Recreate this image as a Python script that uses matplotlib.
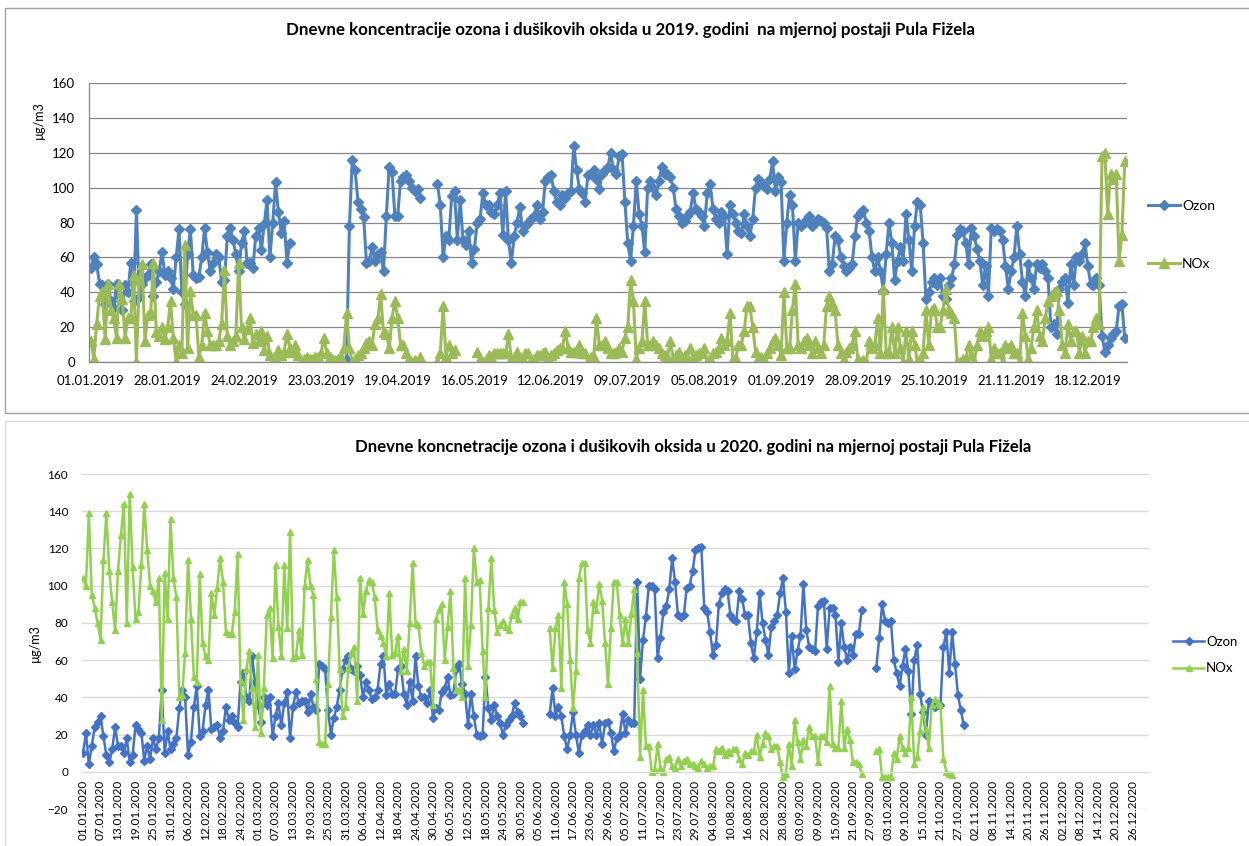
import numpy as np
import pandas as pd
import matplotlib
matplotlib.use('Agg')
import matplotlib.pyplot as plt
from matplotlib.patches import Rectangle

# dnevne koncentracije (µg/m3), segmenti po danu u godini (0 = 01.01.)
ozon_2019 = {
    0: [54, 60, 56, 45, 44, 33, 45, 35, 31, 45,
        38, 30, 44, 40, 57, 35, 87, 37, 45, 48,
        50, 56, 38, 46, 52, 63, 50, 52, 48, 42,
        60, 76, 40, 33, 62, 76, 50, 48, 49, 60,
        77, 63, 52, 57, 62, 60, 46, 47, 72, 77,
        70, 62, 52, 68, 75, 57, 57, 54, 72, 77,
        64, 79, 93, 60, 80, 103, 86, 74, 81, 57,
        68],
    87: [1, 0, 0, 1, 78, 116, 110, 92, 88, 83,
         57, 58, 66, 58, 62, 63, 52, 84, 112, 109,
         84, 84, 104, 106, 107, 104, 100, 98, 99, 94],
    122: [102, 90, 60, 72, 70, 95, 98, 70, 93, 70,
          67, 75, 57, 65, 80, 82, 97, 90, 90, 86,
          85, 90, 97, 73, 98, 70, 57, 72, 80, 89,
          75, 78, 80, 82, 84, 90, 82, 86, 104, 106,
          107, 98, 92, 90, 96, 94, 97, 98, 124, 110,
          99, 97, 92, 107, 108, 110, 105, 99,
          108, 110, 112, 120, 110, 108, 118, 119, 92, 68,
          58, 78, 104, 85, 78, 63, 100, 104, 100, 96,
          104, 112, 108, 108, 106, 100, 88, 84, 80, 81,
          84, 86, 97, 88, 86, 84, 78, 97, 102, 88,
          82, 80, 86, 84, 62, 90, 85, 80, 75, 74,
          85, 78, 72, 82, 100, 105, 103, 101, 99, 105,
          115, 98, 106, 103, 58, 80, 96, 90, 58, 80,
          78, 80, 82, 84, 78, 80, 82, 81, 80, 77,
          52, 56, 72, 70, 60, 55, 52, 54, 56, 72,
          84, 86, 87, 80, 75, 60, 52, 60,
          52, 41, 62, 80, 68, 47, 58, 66, 58, 85,
          70, 52, 78, 92, 90, 68, 36, 40, 46, 48,
          44, 48, 38, 36, 44, 48, 56, 73, 76, 75,
          68, 56, 77, 72, 65, 58, 44, 55, 38, 77,
          75, 76, 75, 70, 55, 42, 52, 60, 78, 62,
          46, 38, 56, 48, 42, 56, 54, 56, 52, 48,
          20, 22, 16, 42, 46, 48, 34, 56, 44, 60,
          58, 62, 68, 55, 45, 44, 48, 44, 15, 6,
          10, 14, 16, 18, 32, 33, 14],
}

nox_2019 = {
    0: [12, 2, 22, 38, 40, 13, 45, 30, 25, 14,
        45, 36, 14, 25, 25, 50, 0, 47, 56, 12,
        27, 28, 57, 17, 15, 20, 13, 20, 35, 14,
        0, 10, 5, 67, 8, 41, 27, 27, 3, 10,
        28, 18, 10, 10, 10, 12, 22, 53, 15, 10,
        12, 15, 57, 20, 13, 19, 25, 11, 16, 12,
        18, 7, 15, 4, 0, 2, 7, 4, 6, 16,
        8, 6, 10, 4, 0, 2, 3, 2, 2, 3,
        3, 5, 14, 5, 3, 2, 1, 2, 3, 8, 28,
        8, 0, 2, 4, 5, 8, 11, 12, 10, 22,
        25, 39, 17, 16, 8, 25, 35, 25, 10, 10,
        5, 2, 0, 1, 0, 3],
    122: [0, 5, 32, 3, 10, 5, 7],
    136: [6, 2, 0, 1, 4, 3, 5, 5, 5, 5,
          5, 16, 2, 3, 6, 2, 2, 5, 5, 1,
          2, 4, 4, 5, 6, 2, 4, 5, 7, 8,
          8, 18, 8, 6, 6, 6, 10, 5, 5, 0,
          3, 3, 25, 10,
          10, 12, 8, 5, 5, 6, 8, 6, 14, 20,
          47, 35, 2, 8, 12, 35, 10, 10, 12, 10,
          8, 5, 4, 3, 12, 2, 4, 6, 3, 4,
          3, 8, 3, 4, 5, 6, 8, 0, 2, 5,
          6, 8, 14, 10, 12, 28, 2, 2, 10, 10,
          18, 32, 32, 20, 6, 2, 3, 2, 5, 8,
          12, 14, 10, 4, 40, 8, 8, 30, 45, 10,
          8, 12, 14, 10, 5, 12, 8, 5, 10, 32,
          38, 34, 30, 10, 5, 2, 6, 8, 10, 18,
          2, 0, 1, 0, 12, 8, 10, 25,
          5, 42, 5, 5, 20, 5, 20, 8, 0, 18,
          2, 18, 10, 0, 2, 5, 30, 10, 30, 31,
          20, 20, 30, 42, 30, 28, 25, 0, 0, 2,
          1, 10, 4, 0, 10, 18, 15, 18, 20, 2,
          8, 5, 5, 0, 10, 8, 10, 5, 5, 0,
          28, 15, 2, 8, 20, 30, 15, 12, 25, 35,
          38, 40, 41, 30, 10, 5, 22, 12, 18, 18,
          5, 15, 5, 12, 12, 20, 25, 22, 118, 120,
          85, 108, 105, 108, 58, 73, 115],
}

ozon_2020 = {
    0: [10, 21, 4, 14, 24, 27, 30, 19, 9, 5,
        12, 24, 14, 14, 10, 18, 5, 9, 25, 23,
        21, 6, 14, 7, 18, 12, 18, 44, 10, 22,
        12, 15, 18, 34, 44, 40, 9, 16, 35, 46,
        19, 22, 36, 44, 23, 24, 25, 18, 22, 35,
        28, 30, 26, 24, 48, 53, 40, 38, 62, 48,
        36, 27, 40, 36, 40, 19, 30, 37, 25, 37,
        43, 18, 35, 43, 37, 38, 38, 32, 42, 35,
        33, 58, 57, 55, 33, 20, 29, 35, 44, 55,
        60, 62, 55, 54, 57, 52, 40, 48, 44, 39,
        40, 44, 58, 62, 41, 47, 42, 42, 55, 57,
        42, 36, 48, 38, 62, 46, 40, 40, 37, 44,
        29, 34, 33, 43, 45, 51, 41, 42, 55, 58,
        47, 42, 25, 42, 30, 20, 19, 20, 51, 34,
        28, 36, 30, 26, 20, 25, 28, 30, 37, 32,
        30, 26],
    160: [31, 45, 30, 35, 30, 19, 12, 20, 32, 20,
          10, 20, 22, 25, 20, 25, 20, 26, 15, 26,
          27, 21, 11, 18, 20, 31, 21, 28, 26, 26,
          102, 50, 71, 83, 100, 100, 98, 61, 72, 86,
          89, 98, 115, 102, 84, 83, 84, 99, 100, 108,
          119, 120, 121, 88, 86, 75, 63, 68, 90, 96,
          98, 97, 84, 82, 81, 97, 93, 84, 84, 69,
          61, 75, 96, 80, 71, 63, 78, 81, 84, 96,
          104, 86, 53, 73, 55, 65, 73, 101, 76, 67,
          66, 65, 89, 91, 92, 66, 88, 88, 84, 59,
          80, 67, 60, 67, 63, 74, 74, 87],
    272: [56, 72, 90, 81, 80, 81, 60, 53, 46, 57,
          66, 54, 31, 60, 68, 42, 32, 20, 38, 36,
          35, 36, 36, 67, 75, 53, 75, 58, 41, 33,
          25],
}

nox_2020 = {
    0: [104, 100, 139, 95, 88, 80, 71, 114, 139, 108,
        91, 76, 108, 127, 144, 80, 149, 110, 82, 86,
        111, 144, 119, 100, 97, 91, 104, 28, 107, 82,
        136, 104, 94, 40, 41, 64, 114, 82, 51, 48,
        106, 69, 62, 60, 96, 84, 99, 115, 102, 75,
        74, 74, 86, 117, 49, 28, 55, 65, 45, 24,
        63, 21, 45, 84, 88, 61, 111, 78, 62, 111,
        77, 129, 61, 62, 76, 63, 100, 114, 100, 95,
        50, 16, 15, 15, 47, 83, 119, 94, 55, 30,
        35, 56, 64, 67, 38, 104, 85, 97, 103, 102,
        94, 76, 73, 69, 62, 96, 63, 64, 73, 54,
        66, 54, 80, 112, 80, 79, 64, 57, 59, 59,
        36, 82, 87, 90, 60, 78, 97, 56, 44, 44,
        40, 104, 57, 79, 120, 102, 103, 65, 40, 88,
        115, 87, 75, 79, 81, 78, 76, 84, 88, 82,
        91, 91],
    160: [77, 56, 77, 84, 45, 102, 90, 60, 34, 54,
          104, 112, 112, 76, 69, 91, 87, 101, 92, 69,
          47, 77, 102, 102, 84, 69, 82, 69, 85, 98,
          64, 8, 44, 14, 14, 0, 1, 15, 2, 0,
          7, 8, 3, 2, 7, 3, 6, 7, 4, 4,
          3, 2, 6, 4, 2, 3, 3, 12, 11, 13,
          9, 11, 10, 12, 12, 7, 4, 10, 9, 11,
          11, 20, 8, 15, 21, 19, 12, 14, 14, 5,
          -3, -1, 15, 3, 28, 16, 7, 17, 14, 24,
          19, 19, 5, 19, 19, 16, 46, 15, 13, 13,
          38, 13, 23, 17, 5, 5, 4, -1],
    272: [11, 12, -3, -3, -3, -3, 10, 7, 19, 13,
          10, 13, 40, 4, 8, 22, 35, 23, 13, 36,
          39, 37, 36, 7, 0, -1, -2],
}

naslov_2019 = ('Dnevne koncentracije ozona i dušikovih oksida u 2019. godini  '
               'na mjernoj postaji Pula Fižela')
naslov_2020 = ('Dnevne koncnetracije ozona i dušikovih oksida u 2020. godini '
               'na mjernoj postaji Pula Fižela')

dani_2019 = pd.date_range('2019-01-01', '2019-12-31')
dani_2020 = pd.date_range('2020-01-01', '2020-12-31')


def u_niz(segmenti, n):
    y = np.full(n, np.nan)
    for start, vals in segmenti.items():
        y[start:start + len(vals)] = vals
    return y


plt.rcParams['font.family'] = ['Lato', 'DejaVu Sans']

W, H = 1249, 846
fig = plt.figure(figsize=(W / 100, H / 100), dpi=100)


def box(x0, y0, x1, y1):
    # pozicija u pikselima -> udio figure
    return [x0 / W, 1 - y1 / H, (x1 - x0) / W, (y1 - y0) / H]


# okviri oko grafova
fig.patches.append(Rectangle((5 / W, 1 - 413 / H), (W - 4) / W, 405 / H,
                             transform=fig.transFigure, fill=False,
                             edgecolor='#A0A0A0', lw=1))
fig.patches.append(Rectangle((5 / W, -0.01), (W - 4) / W, 1 - 421 / H + 0.01,
                             transform=fig.transFigure, fill=False,
                             edgecolor='#D9D9D9', lw=1))

# ---------------- 2019 ----------------
ax1 = fig.add_axes(box(89, 83, 1127, 362))
n1 = len(dani_2019)
x1 = np.arange(n1)
l_oz1, = ax1.plot(x1, u_niz(ozon_2019, n1), color='#4F81BD', lw=2.2,
                  marker='D', ms=5.5, label='Ozon')
l_no1, = ax1.plot(x1, u_niz(nox_2019, n1), color='#9BBB59', lw=2.2,
                  marker='^', ms=6.5, label='NOx')
ax1.set_xlim(-0.7, 364.8)
ax1.set_ylim(0, 160)
ax1.set_yticks(range(0, 161, 20))
t1 = list(range(0, n1, 27))
ax1.set_xticks(t1)
ax1.set_xticklabels([dani_2019[i].strftime('%d.%m.%Y') for i in t1])
ax1.grid(axis='y', color='#868686', lw=0.9)
ax1.set_axisbelow(True)
for s in ['top', 'right']:
    ax1.spines[s].set_visible(False)
for s in ['left', 'bottom']:
    ax1.spines[s].set_color('#868686')
    ax1.spines[s].set_linewidth(0.9)
ax1.tick_params(axis='both', length=0, labelsize=9.5, colors='#000000')
ax1.tick_params(axis='y', pad=10)
ax1.tick_params(axis='x', pad=9)
fig.text(631 / W, 1 - 30 / H, naslov_2019, ha='center', va='center',
         fontsize=12.2, fontweight='bold')
fig.text(39 / W, 1 - 120 / H, 'µg/m3', rotation=90, ha='center',
         va='center', fontsize=9)
fig.legend([l_oz1, l_no1], ['Ozon', 'NOx'], loc='center left',
           bbox_to_anchor=(1148 / W, 1 - 235 / H), frameon=False,
           borderpad=0, borderaxespad=0, handlelength=2.3,
           handletextpad=0.15, labelspacing=3.3, fontsize=10)

# ---------------- 2020 ----------------
ax2 = fig.add_axes(box(82, 474, 1149, 809))
# os x prolazi kroz nulu, oznake datuma ispod nje
for s in ['top', 'right', 'left']:
    ax2.spines[s].set_visible(False)
ax2.spines['bottom'].set_position(('data', 0))
ax2.spines['bottom'].set_color('#D9D9D9')

n2 = len(dani_2020)
x2 = np.arange(n2)
l_oz2, = ax2.plot(x2, u_niz(ozon_2020, n2), color='#4472C4', lw=1.8,
                  marker='D', ms=4, label='Ozon')
l_no2, = ax2.plot(x2, u_niz(nox_2020, n2), color='#92D050', lw=1.8,
                  marker='^', ms=5, label='NOx')
ax2.set_xlim(-0.35, 365.5)
ax2.set_ylim(-20, 160)
ax2.set_yticks(range(-20, 161, 20))
t2 = list(range(0, n2, 6))
ax2.set_xticks(t2)
ax2.set_xticklabels([dani_2020[i].strftime('%d.%m.%Y') for i in t2])
ax2.grid(axis='y', color='#D9D9D9', lw=1.0)
ax2.set_axisbelow(True)
ax2.tick_params(axis='both', length=0, labelsize=8.5, colors='#000000')
ax2.tick_params(axis='y', pad=10)
ax2.tick_params(axis='x', pad=6, labelrotation=90)
fig.text(693 / W, 1 - 447 / H, naslov_2020, ha='center', va='center',
         fontsize=12.1, fontweight='bold')
fig.text(35 / W, 1 - 643 / H, 'µg/m3', rotation=90, ha='center',
         va='center', fontsize=9)
fig.legend([l_oz2, l_no2], ['Ozon', 'NOx'], loc='center left',
           bbox_to_anchor=(1173 / W, 1 - 655 / H), frameon=False,
           borderpad=0, borderaxespad=0, handlelength=2.35,
           handletextpad=0.15, labelspacing=1.1, fontsize=9.5)

fig.savefig('out.png', dpi=100)
